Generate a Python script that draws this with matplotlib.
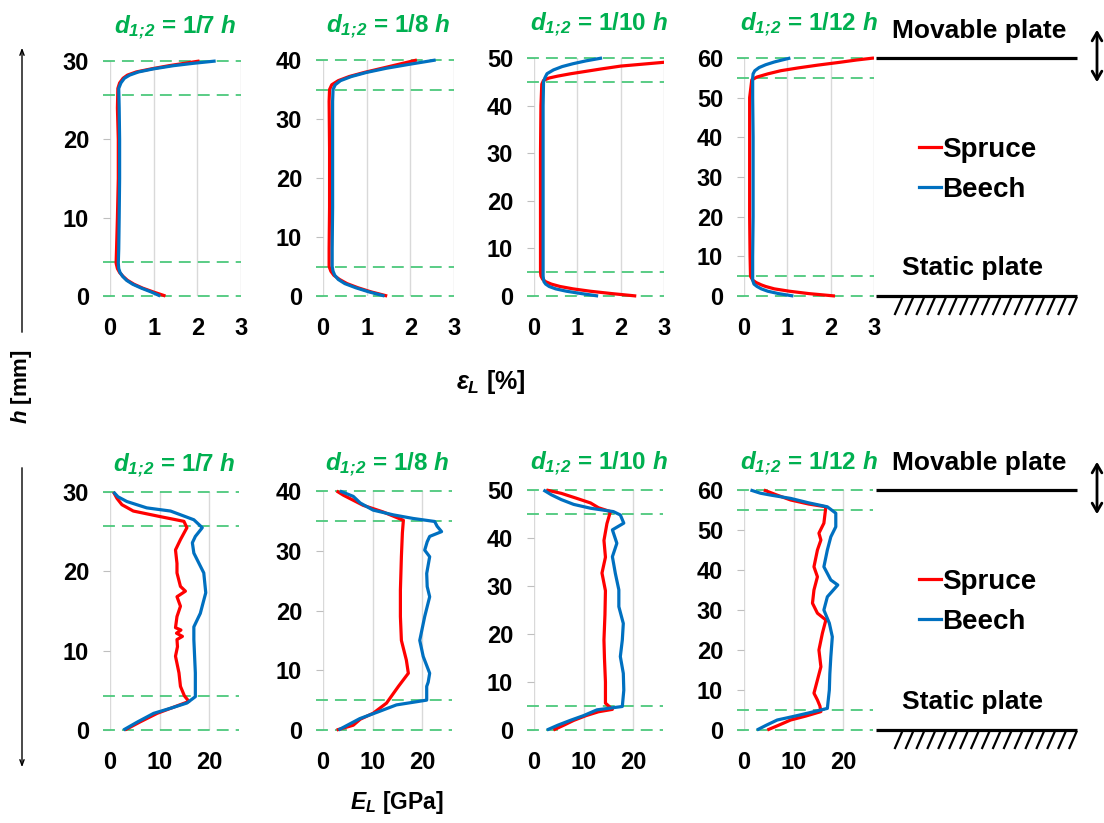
import matplotlib
matplotlib.use('Agg')
import matplotlib.pyplot as plt
from matplotlib.patches import Rectangle
from matplotlib.lines import Line2D

plt.rcParams['font.family'] = ['Liberation Sans', 'DejaVu Sans']
plt.rcParams['font.weight'] = 'bold'
plt.rcParams['mathtext.fontset'] = 'custom'
plt.rcParams['mathtext.it'] = 'Liberation Sans:italic:bold'
plt.rcParams['mathtext.rm'] = 'Liberation Sans:italic:bold'
plt.rcParams['mathtext.bf'] = 'Liberation Sans:italic:bold'

# ---------------- data ----------------
heights = [30, 40, 50, 60]          # specimen height h [mm]
d_labels = ['1/7', '1/8', '1/10', '1/12']
d_div = [7, 8, 10, 12]
species = ['Spruce', 'Beech']

# strain eps_L [%] vs h [mm]
eps_sp_h_7 = [0, 0.5, 1.0, 1.5, 2.0, 2.5, 3.0, 3.5, 4.2, 6, 10, 15, 20, 24, 26.5, 27.2, 27.8, 28.2, 28.6, 29.0, 29.4, 29.7, 30]
eps_sp_7 = [1.27, 1.0, 0.75, 0.55, 0.4, 0.3, 0.22, 0.17, 0.14, 0.15, 0.17, 0.19, 0.19, 0.17, 0.18, 0.22, 0.3, 0.4, 0.6, 0.95, 1.35, 1.7, 2.05]
eps_be_h_7 = [0, 0.5, 1.0, 1.5, 2.0, 2.5, 3.0, 3.5, 4.2, 6, 10, 15, 20, 24, 26.5, 27.2, 27.8, 28.2, 28.6, 29.0, 29.4, 29.7, 30]
eps_be_7 = [1.15, 0.95, 0.72, 0.52, 0.38, 0.29, 0.23, 0.2, 0.19, 0.2, 0.21, 0.22, 0.22, 0.21, 0.2, 0.25, 0.33, 0.45, 0.65, 1.0, 1.45, 1.9, 2.42]

eps_sp_h_8 = [0, 0.7, 1.4, 2.1, 2.8, 3.5, 4.2, 5, 8, 15, 25, 33, 35, 35.8, 36.5, 37.2, 37.9, 38.6, 39.3, 40]
eps_sp_8 = [1.47, 1.1, 0.8, 0.55, 0.38, 0.25, 0.18, 0.14, 0.14, 0.15, 0.15, 0.14, 0.15, 0.2, 0.35, 0.6, 0.95, 1.35, 1.75, 2.15]
eps_be_h_8 = [0, 0.7, 1.4, 2.1, 2.8, 3.5, 4.2, 5, 8, 15, 25, 33, 35, 35.8, 36.5, 37.2, 37.9, 38.6, 39.3, 40]
eps_be_8 = [1.41, 1.05, 0.75, 0.5, 0.35, 0.27, 0.23, 0.21, 0.21, 0.22, 0.22, 0.22, 0.23, 0.28, 0.4, 0.65, 1.0, 1.45, 2.0, 2.58]

eps_sp_h_10 = [0, 0.5, 1.0, 1.5, 2.0, 2.5, 3.0, 3.5, 4.2, 5, 10, 20, 30, 40, 44.5, 45.3, 45.8, 46.2, 46.7, 47.2, 47.7, 48.3, 48.7, 49.1, 49.6]
eps_sp_10 = [2.36, 1.8, 1.3, 0.9, 0.6, 0.4, 0.27, 0.2, 0.16, 0.15, 0.15, 0.15, 0.15, 0.16, 0.18, 0.22, 0.35, 0.55, 0.85, 1.2, 1.55, 2.0, 2.5, 3.0, 3.6]
eps_be_h_10 = [0, 0.5, 1.0, 1.5, 2.0, 2.5, 3.0, 3.5, 4.2, 10, 20, 30, 40, 45, 45.8, 46.7, 47.5, 48.2, 48.8, 49.4, 50]
eps_be_10 = [1.48, 1.1, 0.75, 0.5, 0.35, 0.27, 0.23, 0.22, 0.21, 0.21, 0.21, 0.21, 0.21, 0.22, 0.25, 0.3, 0.45, 0.65, 0.9, 1.2, 1.57]

eps_sp_h_12 = [0, 0.6, 1.2, 1.8, 2.4, 2.8, 3.4, 4.0, 5, 10, 20, 30, 40, 50, 54.5, 55.2, 56, 56.8, 57.5, 58.2, 58.9, 59.5, 60]
eps_sp_12 = [2.1, 1.5, 1.05, 0.7, 0.5, 0.4, 0.28, 0.2, 0.15, 0.14, 0.13, 0.13, 0.13, 0.13, 0.18, 0.3, 0.55, 0.85, 1.25, 1.7, 2.2, 2.6, 3.0]
eps_be_h_12 = [0, 0.6, 1.2, 1.8, 2.4, 3.0, 4.0, 5, 10, 20, 30, 40, 50, 55, 56, 56.8, 57.6, 58.3, 59, 59.5, 60]
eps_be_12 = [1.14, 0.8, 0.55, 0.4, 0.3, 0.23, 0.2, 0.2, 0.2, 0.21, 0.21, 0.21, 0.2, 0.2, 0.21, 0.25, 0.35, 0.5, 0.7, 0.88, 1.07]

# modulus E_L [GPa] vs h [mm]
E_sp_h_7 = [0, 1.0, 2.1, 2.8, 3.6, 4.3, 5.5, 7.2, 9.3, 10.5, 11.4, 11.8, 12.2, 12.6, 12.9, 14.3, 15.6, 16.8, 17.5, 18.1, 19.8, 21, 22.7, 24, 25.5, 26.3, 26.9, 27.6, 28.4, 29.2, 30]
E_sp_7 = [3.0, 6.0, 9.5, 12.5, 15.9, 15.0, 14.2, 13.9, 13.2, 13.6, 13.5, 14.6, 13.4, 14.3, 13.2, 13.5, 14.2, 13.5, 15.2, 14.2, 13.5, 13.5, 13.2, 14.2, 15.5, 14.9, 10.1, 4.7, 2.4, 1.4, 0.7]
E_be_h_7 = [0, 1.0, 2.1, 2.8, 3.4, 4.2, 7.2, 11.4, 13, 14.7, 17.3, 19.8, 22.3, 23.6, 24.4, 25.5, 26.5, 27.6, 28, 28.8, 29.4, 30]
E_be_7 = [2.7, 5.5, 8.8, 12.5, 15.5, 17.2, 17.2, 16.9, 16.9, 18.2, 19.3, 18.9, 16.9, 16.6, 17.2, 18.6, 16.9, 12.2, 7.4, 3.4, 1.6, 0.7]

E_sp_h_8 = [0, 0.8, 1.8, 2.8, 4.5, 7.3, 9.5, 11.7, 15, 19, 23.4, 29, 33, 35.1, 36.5, 37.6, 39.3, 40]
E_sp_8 = [2.75, 6.1, 7.5, 10.1, 12.8, 15.2, 17.2, 16.8, 15.8, 15.6, 15.6, 15.8, 16.0, 16.2, 12.1, 8.1, 4.1, 2.75]
E_be_h_8 = [0, 1.9, 3.0, 4.2, 5, 7.3, 8, 9.5, 12.3, 15, 17, 19, 22.3, 24, 26.2, 29, 30.1, 31.5, 32.4, 33.2, 34.1, 34.9, 35.4, 36, 36.8, 38, 39.1, 40]
E_be_8 = [3.1, 7.4, 11.0, 14.8, 20.9, 20.9, 21.2, 21.5, 20.2, 19.5, 20.0, 20.5, 21.5, 21.0, 20.9, 21.5, 20.5, 21.0, 21.5, 23.9, 23.0, 22.5, 18.2, 14.2, 10.1, 7.5, 6.1, 3.4]

E_sp_h_10 = [0, 1, 2, 3, 3.8, 4.3, 5.6, 10, 15, 18.75, 24, 29, 32.7, 36, 39.5, 43, 45.5, 46.3, 47.3, 48.3, 49.3, 50]
E_sp_10 = [3.9, 6.0, 8.0, 10.5, 13.0, 15.8, 14.4, 14.4, 14.2, 14.1, 14.3, 14.4, 13.7, 14.4, 14.1, 14.7, 15.4, 13.0, 11.4, 8.5, 5.5, 2.5]
E_be_h_10 = [0, 1, 2, 3, 4.2, 4.9, 8.3, 11.8, 15.3, 18.75, 22.2, 25.7, 29.2, 32.6, 36.1, 38.9, 41.7, 43.1, 44.8, 45.5, 46.2, 47, 48, 49, 50]
E_be_10 = [2.6, 4.8, 7.3, 10.0, 12.7, 17.8, 18.1, 18.0, 17.4, 17.8, 18.0, 17.1, 17.1, 16.4, 15.8, 16.7, 15.8, 18.1, 17.4, 16.0, 11.4, 8.0, 5.5, 3.5, 1.9]

E_sp_h_12 = [0, 1.2, 2.5, 3.5, 4.6, 6, 7.5, 9.2, 12.5, 15.8, 20, 24.2, 27.5, 29.2, 31.7, 35, 38.3, 40.8, 45, 47.5, 49.2, 51.7, 55.8, 56.5, 57.5, 58.8, 60]
E_sp_12 = [4.7, 7.0, 9.4, 12.5, 15.5, 15.3, 14.8, 14.1, 14.8, 15.5, 15.1, 15.8, 16.5, 14.8, 13.8, 14.1, 14.8, 14.1, 14.8, 15.5, 15.1, 16.1, 16.5, 13.0, 9.4, 6.5, 4.0]
E_be_h_12 = [0, 1.2, 2.5, 3.4, 4.2, 5.4, 10, 14, 18.3, 23.3, 26.7, 30, 33.3, 36.25, 37.5, 40.8, 45, 48.3, 50.8, 54.2, 55.8, 56.8, 57.9, 58.7, 59.2, 60]
E_be_12 = [2.6, 4.5, 6.7, 10.0, 12.8, 16.8, 17.2, 17.3, 17.5, 17.8, 17.2, 16.1, 16.8, 18.9, 17.5, 16.1, 16.8, 17.5, 18.5, 18.5, 16.8, 13.0, 9.4, 5.5, 3.3, 1.3]

eps_series = [((eps_sp_h_7, eps_sp_7), (eps_be_h_7, eps_be_7)),
              ((eps_sp_h_8, eps_sp_8), (eps_be_h_8, eps_be_8)),
              ((eps_sp_h_10, eps_sp_10), (eps_be_h_10, eps_be_10)),
              ((eps_sp_h_12, eps_sp_12), (eps_be_h_12, eps_be_12))]
E_series = [((E_sp_h_7, E_sp_7), (E_be_h_7, E_be_7)),
            ((E_sp_h_8, E_sp_8), (E_be_h_8, E_be_8)),
            ((E_sp_h_10, E_sp_10), (E_be_h_10, E_be_10)),
            ((E_sp_h_12, E_sp_12), (E_be_h_12, E_be_12))]

eps_xticks = [0, 1, 2, 3]
E_xticks = [0, 10, 20]

# ---------------- style ----------------
RED = '#FF0000'
BLUE = '#0070C0'
GREEN_T = '#00B050'
GREEN_D = '#4CC87C'
GRID = '#D9D9D9'

W, H = 1104, 823
fig = plt.figure(figsize=(W / 100, H / 100), dpi=100)


def px_axes(l, t, r, b):
    return fig.add_axes([l / W, 1 - b / H, (r - l) / W, (b - t) / H])


top_boxes = [(110, 61, 241, 296), (323, 60, 454, 296), (534, 58, 664, 296), (744, 58, 874, 296)]
bot_boxes = [(110, 492, 239, 730), (323, 491, 452, 730), (534, 490, 663, 730), (744, 490, 873, 730)]


def draw_panel(ax, series, hmax, div, xlim, xticks, dlabel, tpad):
    ax.set_xlim(*xlim)
    ax.set_ylim(0, hmax)
    ax.set_xticks(xticks)
    ax.set_yticks(range(0, hmax + 1, 10))
    for s in ax.spines.values():
        s.set_visible(False)
    ax.grid(axis='x', color=GRID, lw=1.0)
    ax.grid(axis='y', visible=False)
    ax.set_axisbelow(True)
    ax.tick_params(axis='y', length=5, width=0.8, color='#BFBFBF', pad=10, labelsize=17)
    ax.tick_params(axis='x', length=0, pad=15, labelsize=17)
    d = hmax / div
    for yv in [0, d, hmax - d, hmax]:
        ax.axhline(yv, xmin=-0.055, xmax=1.0, color=GREEN_D, lw=1.3,
                   ls=(0, (6.6, 3.9)), clip_on=False, zorder=1)
    clip = Rectangle((-0.2, -0.05), 1.2, 1.1, transform=ax.transAxes, fill=False, visible=False)
    ax.add_patch(clip)
    for (hs, vs), col in zip(series, [RED, BLUE]):
        ln, = ax.plot(vs, hs, color=col, lw=2.3, zorder=3, solid_capstyle='butt')
        ln.set_clip_path(clip)
    ax.set_title(r'$d_{1;\!2}$ = ' + dlabel + r' $h$', color=GREEN_T, fontsize=17.5,
                 fontweight='bold', pad=tpad)


for i in range(4):
    ax = px_axes(*top_boxes[i])
    draw_panel(ax, eps_series[i], heights[i], d_div[i], (0, 3), eps_xticks, d_labels[i], 19.5)
    ax = px_axes(*bot_boxes[i])
    draw_panel(ax, E_series[i], heights[i], d_div[i], (0, 26), E_xticks, d_labels[i], 14.5)

# ---------------- overlay (decorations in pixel space) ----------------
ov = fig.add_axes([0, 0, 1, 1], zorder=-1)
ov.set_xlim(0, W)
ov.set_ylim(H, 0)
ov.axis('off')

for (y_top, y_bot) in [(58, 296), (490, 730)]:
    ov.plot([876, 1077], [y_top, y_top], color='black', lw=2.3, solid_capstyle='butt')
    ov.plot([876, 1077], [y_bot, y_bot], color='black', lw=2.3, solid_capstyle='butt')
    for k in range(17):
        x0 = 895 + k * 10.9
        ov.plot([x0, x0 + 7], [y_bot + 18, y_bot + 2], color='black', lw=1.6)
    ov.text(979, y_top - 27, 'Movable plate', ha='center', va='center', fontsize=19)
    ov.text(973, y_bot - 28, 'Static plate', ha='center', va='center', fontsize=19)
    ov.annotate('', xy=(1097, y_top - 31), xytext=(1097, y_top + 27),
                arrowprops=dict(arrowstyle='<->,head_length=0.6,head_width=0.35', lw=2.0, color='black'))

# long h arrow on the left
ov.annotate('', xy=(22, 45), xytext=(22, 335),
            arrowprops=dict(arrowstyle='->,head_length=0.4,head_width=0.15', lw=1.0, color='black'))
ov.annotate('', xy=(22, 770), xytext=(22, 465),
            arrowprops=dict(arrowstyle='->,head_length=0.4,head_width=0.15', lw=1.0, color='black'))
ov.text(22, 387, r'$h$ [mm]', rotation=90, ha='center', va='center', fontsize=16)
ov.text(491, 382, r'$\varepsilon_L$ [%]', ha='center', va='center', fontsize=18)
ov.text(397, 803, r'$E_L$ [GPa]', ha='center', va='center', fontsize=16.5)

handles = [Line2D([], [], color=RED, lw=2.3), Line2D([], [], color=BLUE, lw=2.3)]
for yc in [170, 602]:
    fig.legend(handles, species, loc='center left', bbox_to_anchor=(919 / W, 1 - yc / H),
               frameon=False, fontsize=20, handlelength=0.8, handletextpad=0.05,
               labelspacing=0.5, borderpad=0, borderaxespad=0)

fig.savefig('out.png', dpi=100)
